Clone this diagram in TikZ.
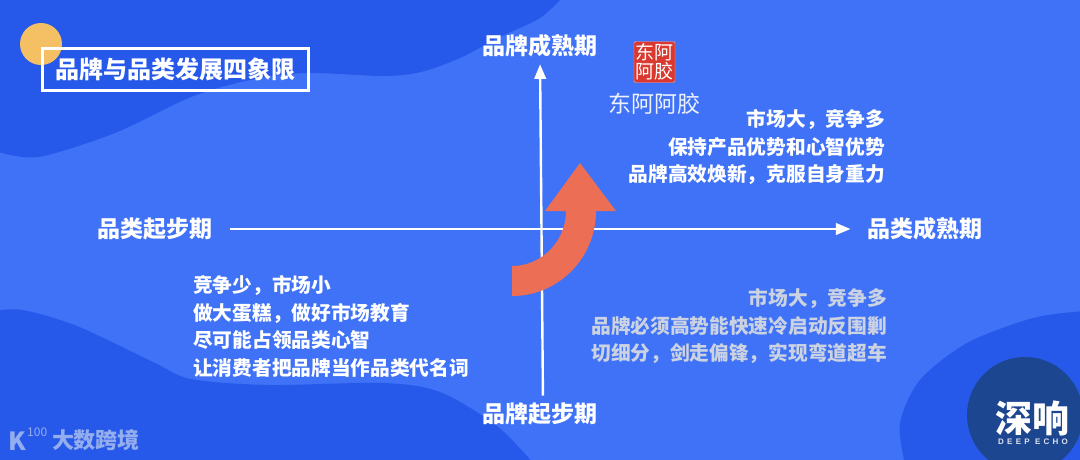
\documentclass[tikz,border=0pt]{standalone}
\usepackage{xcolor}
\usepackage{fontspec}
\usetikzlibrary{arrows, positioning}
\newfontfamily\cjk{Noto Sans CJK SC}
\newfontfamily\echofont[LetterSpace=40]{Liberation Sans}
\definecolor{bgblue}{HTML}{3F72F7}
\definecolor{darkblue}{HTML}{2659EA}
\definecolor{navy}{HTML}{1D4691}
\definecolor{sun}{HTML}{F4C063}
\definecolor{redarrow}{HTML}{EC6E55}
\definecolor{sealred}{HTML}{D9392F}
\definecolor{grayline}{HTML}{CBD2E2}
\definecolor{markblue}{HTML}{94ADEE}

\begin{document}
\begin{tikzpicture}[x=1pt, y=-1pt,
		>=triangle 45,
		axislabel/.style={text=white, inner sep=0pt, font=\cjk\bfseries\fontsize{23}{23}\selectfont},
		bodytext/.style={text=white, inner sep=0pt, font=\cjk\bfseries\fontsize{19.7}{27.7}\selectfont},
		axisline/.style={draw=white, line width=2.4pt}]
		
		\useasboundingbox (0,0) rectangle (1080,459);
		\fill[bgblue] (-3,-3) rectangle (1083,462);
		
		% background waves
		\begin{scope}
			\clip (-3,-3) rectangle (1083,462);
			\fill[darkblue] plot[smooth] coordinates {(-5,151) (38,157) (115,133) (191,97) (250,80) (306,73) (383,76) (421,72) (460,58) (500,37) (540,18) (565,-5)} -- (-5,-5) -- cycle;
			\fill[darkblue] plot[smooth] coordinates {(-5,311) (23,310) (77,326) (153,362) (191,379) (268,385) (383,383) (440,392) (497,426) (534,464)} -- (-5,464) -- cycle;
			\fill[darkblue] plot[smooth] coordinates {(905,464) (900,423) (920,380) (967,343) (1033,318) (1085,311)} -- (1085,464) -- cycle;
			\fill[navy] (1025,415) circle (58);
		\end{scope}
		
		% title
		\fill[sun] (41,44) circle (21);
		\node (title) [draw=white, line width=3pt, minimum width=266pt, minimum height=42pt, inner sep=0pt, text=white, font=\cjk\bfseries\fontsize{24}{24}\selectfont] at (175.5,69.5) {品牌与品类发展四象限};
		
		% axes
		\node (catlow) [axislabel] at (155,229) {品类起步期};
		\node (cathigh) [axislabel] at (925,229) {品类成熟期};
		\node (brandhigh) [axislabel] at (540,46) {品牌成熟期};
		\node (brandlow) [axislabel] at (540,414) {品牌起步期};
		\draw[axisline, ->, shorten <=17pt, shorten >=17pt] (catlow.east) -- (cathigh.west);
		\draw[axisline, ->, shorten <=7pt, shorten >=7pt] ([xshift=3pt]brandlow.north) -- (brandhigh.south);
		
		% curved arrow
		\fill[redarrow] (512,266) .. controls (542,266) and (566,241) .. (566,211) -- (545,211) -- (580,163) -- (616,211) -- (596,211) .. controls (596,258) and (558.5,296) .. (512,296) -- cycle;
		
		% seal
		\node (seal) [fill=sealred, draw=white!60!sealred, rounded corners=1.5pt, minimum size=41pt, inner sep=0pt, align=center, text=white, font=\cjk\fontsize{19}{19}\selectfont] at (654.5,62) {东阿\\阿胶};
		\node (sealname) [below=10pt of seal, inner sep=0pt, text=white!90!bgblue, font=\cjk\fontsize{23}{23}\selectfont] {东阿阿胶};
		
		% quadrant texts
		\node (topright) [bodytext, align=right, anchor=east] at (885,147) {市场大，竞争多\\保持产品优势和心智优势\\品牌高效焕新，克服自身重力};
		\node (lowleft) [bodytext, align=left, anchor=west] at (193,326.5) {竞争少，市场小\\做大蛋糕，做好市场教育\\尽可能占领品类心智\\让消费者把品牌当作品类代名词};
		\node (lowright) [bodytext, text=grayline, align=right, anchor=east] at (887,326) {市场大，竞争多\\品牌必须高势能快速冷启动反围剿\\切细分，剑走偏锋，实现弯道超车};
		
		% marks
		\node (markname) [inner sep=0pt, text=markblue, font=\cjk\bfseries\fontsize{22}{22}\selectfont] at (96,440) {大数跨境};
		\node (markk) [inner sep=0pt, anchor=east, text=markblue, font=\cjk\bfseries\fontsize{25}{25}\selectfont] at (26,441) {K};
		\node (markno) [inner sep=0pt, anchor=west, text=markblue, font=\cjk\fontsize{12}{12}\selectfont] at (27,432) {100};
		\node (echo) [inner sep=0pt, text=white, font=\cjk\bfseries\fontsize{37}{37}\selectfont] at (1032,418) {深响};
		\node (echosub) [inner sep=0pt, text=white!85!navy, font=\echofont\bfseries\fontsize{8}{8}\selectfont] at (1033,441.5) {DEEP ECHO};
	\end{tikzpicture}
\end{document}
